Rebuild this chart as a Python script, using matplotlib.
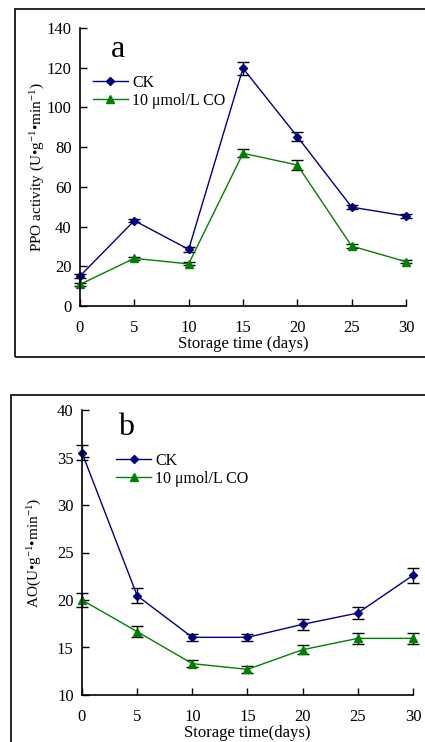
import matplotlib
matplotlib.use("Agg")
import matplotlib.pyplot as plt
from matplotlib.patches import Rectangle
from matplotlib.lines import Line2D

plt.rcParams['font.family'] = ['Liberation Serif', 'DejaVu Serif']
plt.rcParams['mathtext.fontset'] = 'custom'
plt.rcParams['mathtext.rm'] = 'Liberation Serif'
plt.rcParams['mathtext.it'] = 'Liberation Serif:italic'

days = [0, 5, 10, 15, 20, 25, 30]

# panel a: PPO activity
ppo_ck = [15.1, 43.0, 28.5, 119.7, 85.3, 49.8, 45.3]
ppo_ck_err = [1.0, 0.8, 1.2, 3.4, 2.4, 1.0, 1.0]
ppo_co = [10.9, 24.0, 21.2, 76.9, 71.0, 30.2, 22.3]
ppo_co_err = [0.8, 0.8, 0.8, 2.1, 2.3, 1.0, 0.8]

# panel b: AO activity
ao_ck = [35.5, 20.45, 16.07, 16.07, 17.44, 18.63, 22.6]
ao_ck_err = [0.8, 0.8, 0.35, 0.35, 0.6, 0.6, 0.8]
ao_co = [20.0, 16.67, 13.3, 12.7, 14.77, 15.96, 15.96]
ao_co_err = [0.7, 0.6, 0.4, 0.4, 0.5, 0.6, 0.6]

CK_COLOR = '#000080'
CO_COLOR = '#008000'
FS = 12

W, H = 425, 742
fig = plt.figure(figsize=(W / 100, H / 100), dpi=100)

# outer frames around each panel
fig.add_artist(Rectangle((15 / W, 1 - 357 / H), 420 / W, 348 / H, transform=fig.transFigure,
                         fill=False, edgecolor='black', linewidth=1.2))
fig.add_artist(Rectangle((11 / W, -0.05), 420 / W, 0.05 + 1 - 395 / H, transform=fig.transFigure,
                         fill=False, edgecolor='black', linewidth=1.2))


def panel(rect, ck, ck_err, co, co_err, ylim, yticks, ylabel, letter, letter_xy, leg_xy,
          xlabel, ylab_x):
    ax = fig.add_axes(rect)
    ax.errorbar(days, ck, yerr=ck_err, color=CK_COLOR, marker='D', markersize=4.5, linewidth=1,
                ecolor='black', elinewidth=1, capsize=4, capthick=1)
    ax.errorbar(days, co, yerr=co_err, color=CO_COLOR, marker='^', markersize=6, linewidth=1,
                ecolor='black', elinewidth=1, capsize=4, capthick=1)
    ax.set_xlim(0, 30)
    ax.set_ylim(*ylim)
    ax.set_xticks(days)
    ax.set_yticks(yticks)
    ax.spines['top'].set_visible(False)
    ax.spines['right'].set_visible(False)
    for s in ('left', 'bottom'):
        ax.spines[s].set_linewidth(1.2)
    ax.tick_params(direction='in', length=5, width=1, labelsize=FS, pad=6)
    ax.tick_params(axis='x', pad=10)
    ax.set_xlabel(xlabel, fontsize=FS, labelpad=0)
    ax.set_ylabel(ylabel, fontsize=11)
    ax.yaxis.set_label_coords(ylab_x, 0.5)
    ax.text(letter_xy[0], letter_xy[1], letter, transform=ax.transAxes, fontsize=23,
            va='baseline')
    handles = [Line2D([], [], color=CK_COLOR, marker='D', markersize=4.5, linewidth=1),
               Line2D([], [], color=CO_COLOR, marker='^', markersize=6, linewidth=1)]
    ax.legend(handles, ['CK', '10 \u03bcmol/L CO'], loc='upper left', bbox_to_anchor=leg_xy,
              frameon=False, fontsize=11.5, handlelength=2.2, handletextpad=0.25,
              labelspacing=0.1, borderpad=0)
    for c in ax.containers:
        for art in c.get_children():
            art.set_clip_on(False)
    return ax


panel([80 / W, 1 - 306 / H, 326 / W, 278 / H], ppo_ck, ppo_ck_err, ppo_co, ppo_co_err,
      (0, 140), range(0, 141, 20),
      'PPO activity (U\u2022g$^{-1}$\u2022min$^{-1}$)', 'a', (0.095, 0.896), (0.015, 0.86),
      'Storage time (days)', -0.10)

panel([82 / W, 1 - 695 / H, 331 / W, 285 / H], ao_ck, ao_ck_err, ao_co, ao_co_err,
      (10, 40), range(10, 41, 5),
      'AO(U\u2022g$^{-1}$\u2022min$^{-1}$)', 'b', (0.11, 0.912), (0.079, 0.877),
      'Storage time(days)', -0.115)

fig.savefig('out.png', dpi=100)
